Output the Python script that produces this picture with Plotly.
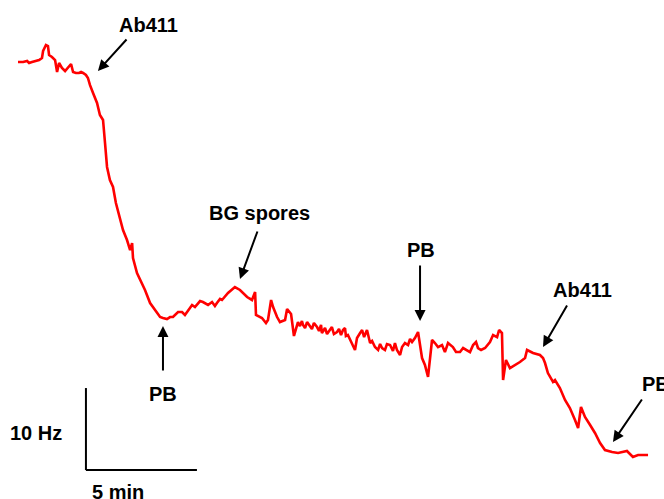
import plotly.graph_objects as go

# Time (min) and frequency shift (Hz), written segment by segment
time_min = [
    0.00, 0.23, 0.41, 0.50, 0.63, 0.77, 0.95, 1.08, 1.13, 1.26, 1.35, 1.40, 1.53, 1.67,
    1.76, 1.85, 1.98, 2.12, 2.25, 2.39, 2.48, 2.61, 2.75, 2.84, 2.93, 3.06, 3.15, 3.24,
    3.38, 3.56, 3.69, 3.83, 3.92, 4.01, 4.14, 4.28, 4.41, 4.59, 4.73, 4.91, 5.05, 5.14,
    5.18, 5.36, 5.50, 5.72, 5.95, 6.08, 6.26, 6.40, 6.53, 6.71, 6.85, 6.98, 7.21, 7.39,
    7.52, 7.84, 7.97, 8.11, 8.20, 8.33, 8.56, 8.74, 8.87, 8.96, 9.10, 9.19, 9.46, 9.77,
    10.00, 10.32, 10.54, 10.68, 10.72, 10.99, 11.17, 11.26, 11.40, 11.49, 11.67, 11.80,
    12.03, 12.12, 12.30, 12.43,
    12.61, 12.70, 12.79, 12.84, 12.93, 13.02, 13.15, 13.24, 13.33, 13.47, 13.56, 13.65,
    13.69, 13.83, 13.92, 14.05, 14.14, 14.23, 14.37, 14.46, 14.55, 14.64, 14.73, 14.77,
    14.86, 15.18, 15.27, 15.41, 15.50, 15.59, 15.72, 15.86, 15.95, 16.08, 16.22, 16.31,
    16.40, 16.53, 16.62, 16.76, 16.89, 16.98, 17.07, 17.21, 17.30, 17.43, 17.57, 17.66,
    17.75, 17.88, 18.02,
    18.20, 18.33, 18.47, 18.65, 18.78, 18.92, 19.10, 19.23, 19.37, 19.59, 19.73, 19.91,
    20.05, 20.23, 20.36, 20.50, 20.63, 20.72, 20.86, 21.04, 21.17, 21.26, 21.40, 21.58,
    21.67, 21.80, 21.85, 21.98, 22.16, 22.39, 22.61, 22.84, 22.93, 23.20, 23.51, 23.65,
    23.74, 23.87, 23.96, 24.10, 24.19, 24.41, 24.64, 24.86, 25.09, 25.23, 25.36, 25.54,
    25.77, 25.99, 26.22, 26.44, 26.76, 27.03, 27.43, 27.70, 27.93, 28.38,
]
freq_hz = [
    0.00, 0.00, 0.12, -0.12, 0.00, 0.12, 0.24, 0.49, 1.34, 2.07, 1.95, 0.85, 0.61, 0.24,
    -1.22, -0.12, -0.73, -1.10, -0.73, -0.24, -1.22, -1.34, -1.34, -1.22, -1.34, -1.59,
    -1.95, -2.80, -3.78, -5.00, -6.46, -7.07, -9.88, -12.80, -14.39, -15.24, -17.20,
    -18.90, -20.49, -21.71, -22.93, -22.07, -23.90, -25.73, -26.46, -27.80, -29.39,
    -29.88, -30.61, -31.10, -31.22, -31.34, -31.10, -31.10, -30.49, -30.49, -30.85,
    -29.63, -29.88, -29.39, -29.15, -29.27, -29.63, -29.27, -29.76, -29.39, -28.90,
    -29.02, -28.17, -27.44, -27.80, -28.66, -29.02, -28.05, -30.85, -31.22, -31.83,
    -31.46, -29.02, -29.88, -31.10, -31.71, -31.46, -30.12, -30.73, -33.41,
    -31.71, -32.20, -31.59, -32.07, -32.44, -31.71, -32.32, -32.56, -31.83, -32.32,
    -32.80, -32.07, -33.05, -32.44, -33.17, -32.68, -32.32, -33.17, -32.93, -32.56,
    -33.29, -32.68, -32.44, -33.41, -33.29, -35.12, -33.66, -33.05, -32.68, -33.54,
    -32.68, -34.27, -34.02, -34.76, -35.12, -34.39, -34.88, -35.12, -34.39, -34.51,
    -35.24, -34.27, -35.12, -35.73, -34.76, -34.27, -34.51, -33.78, -34.15, -33.66,
    -32.93,
    -36.10, -36.95, -38.41, -33.90, -34.27, -34.76, -34.51, -35.37, -34.27, -34.76,
    -35.37, -35.37, -34.88, -35.12, -35.37, -34.51, -34.15, -34.88, -35.12, -34.88,
    -34.51, -34.15, -33.29, -33.54, -32.68, -33.05, -38.78, -36.34, -37.32, -36.95,
    -36.59, -36.10, -35.12, -35.49, -35.73, -36.10, -36.71, -37.93, -38.41, -39.02,
    -38.78, -39.76, -41.22, -42.20, -43.66, -44.63, -42.07, -43.29, -44.27, -45.24,
    -46.46, -47.32, -47.56, -47.68, -47.44, -48.17, -47.93, -47.93,
]

# Event labels: (text, tip time, tip freq, tail time, tail freq, label time, label freq, anchor)
events = [
    ("Ab411", 3.60, -1.10, 4.95, 2.93, 5.86, 4.51, "center"),
    ("BG spores", 10.00, -26.46, 10.81, -20.49, 10.90, -18.41, "center"),
    ("PB", 6.53, -32.20, 6.53, -37.80, 6.53, -40.49, "center"),
    ("PB", 18.11, -31.59, 18.11, -24.63, 18.15, -22.93, "center"),
    ("Ab411", 23.65, -34.76, 24.77, -29.51, 25.45, -27.80, "center"),
    ("PB", 26.80, -46.34, 28.15, -40.98, 28.02, -39.27, "left"),
]

# Scale bar
bar_t0, bar_f0 = 3.06, -49.76
bar_len_min = 5
bar_len_hz = 10

font = dict(family="Liberation Sans, Arial, sans-serif", size=20, color="black", weight="bold")

fig = go.Figure()
fig.add_trace(go.Scatter(x=time_min, y=freq_hz, mode="lines",
                         line=dict(color="#ff0000", width=2.6), hoverinfo="skip"))

for text, tx, ty, ax, ay, lx, ly, anc in events:
    fig.add_annotation(x=tx, y=ty, ax=ax, ay=ay, xref="x", yref="y", axref="x", ayref="y",
                       text="", showarrow=True, arrowhead=2, arrowsize=1.1, arrowwidth=2,
                       arrowcolor="black", standoff=0, startstandoff=0)
    fig.add_annotation(x=lx, y=ly, xref="x", yref="y", text=text, showarrow=False,
                       font=font, xanchor=anc, yanchor="middle")

fig.add_shape(type="line", x0=bar_t0, y0=bar_f0, x1=bar_t0, y1=bar_f0 + bar_len_hz,
              line=dict(color="black", width=2))
fig.add_shape(type="line", x0=bar_t0, y0=bar_f0, x1=bar_t0 + bar_len_min, y1=bar_f0,
              line=dict(color="black", width=2))
fig.add_annotation(x=2.07, y=-45.24, text="10 Hz", showarrow=False, font=font,
                   xanchor="right", yanchor="middle")
fig.add_annotation(x=bar_t0 + bar_len_min / 2 - 1.06, y=-52.44, text="5 min", showarrow=False,
                   font=font, xanchor="center", yanchor="middle")

fig.update_layout(
    width=664, height=499, margin=dict(l=0, r=0, t=0, b=0),
    paper_bgcolor="white", plot_bgcolor="white", showlegend=False,
    xaxis=dict(visible=False, range=[-0.811, 29.099]),
    yaxis=dict(visible=False, range=[-53.29, 7.561]),
)
fig.write_html("out.html")
